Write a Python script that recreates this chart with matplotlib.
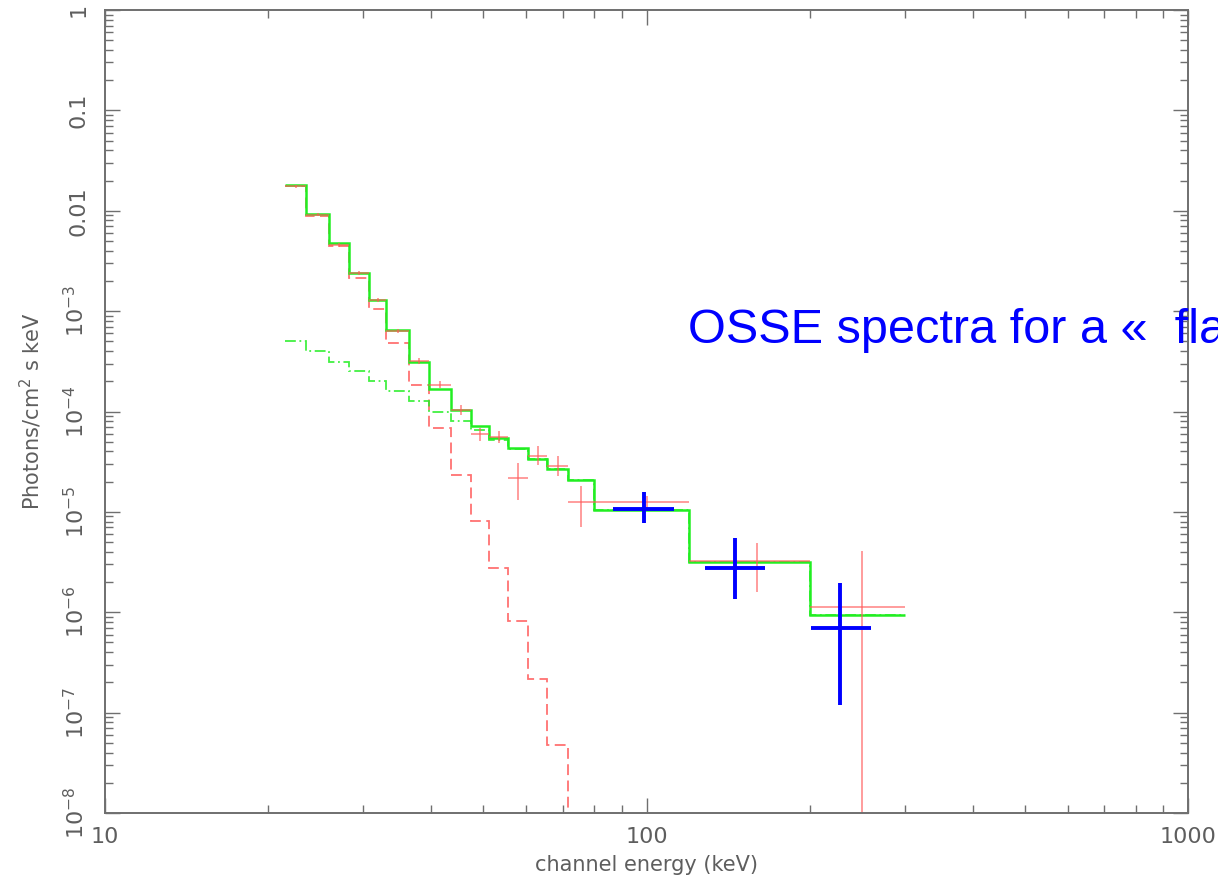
import numpy as np
import matplotlib
matplotlib.use("Agg")
import matplotlib.pyplot as plt
from matplotlib.ticker import FixedLocator, FixedFormatter, LogLocator, NullFormatter

# ---- data ----
# channel bin edges (keV)
edges = [21.5, 23.5, 25.9, 28.25, 30.7, 33.1, 36.4, 39.7, 43.55, 47.4,
         51.2, 55.5, 60.3, 65.6, 71.5, 80.0, 120.0, 200.0, 300.0]

# total model (green solid)
model_total = [0.0179, 0.00919, 0.00472, 0.00241, 0.00129, 6.43e-4, 3.12e-4,
               1.66e-4, 1.03e-4, 7.16e-5, 5.48e-5, 4.29e-5, 3.39e-5, 2.69e-5,
               2.06e-5, 1.04e-5, 3.16e-6, 9.38e-7]

# steep component (red dashed)
model_cut = [0.0175, 0.0088, 0.00444, 0.00215, 0.00106, 4.77e-4, 1.83e-4,
             6.84e-5, 2.33e-5, 8.1e-6, 2.78e-6, 8.17e-7, 2.15e-7, 4.76e-8,
             1e-10, 1e-10, 1e-10, 1e-10]

# power-law component (green dash-dot)
model_pl = [5.03e-4, 4.0e-4, 3.13e-4, 2.51e-4, 2.02e-4, 1.60e-4, 1.27e-4,
            9.96e-5, 8.02e-5, 6.48e-5, 5.2e-5, 4.2e-5, 3.35e-5, 2.68e-5,
            2.06e-5, 1.04e-5, 3.16e-6, 9.3e-7]

# red data points (one per channel)
red_y = [0.0175, 0.0091, 0.0046, 0.0024, 0.00128, 6.3e-4, 3.2e-4, 1.85e-4,
         1.03e-4, 5.91e-5, 5.61e-5, 2.19e-5, 3.6e-5, 2.86e-5, 1.25e-5,
         1.25e-5, 3.21e-6, 1.14e-6]
red_lo = [0.017, 0.0088, 0.0044, 0.0023, 0.00122, 6.0e-4, 3.0e-4, 1.7e-4,
          9.3e-5, 5.1e-5, 4.9e-5, 1.31e-5, 2.9e-5, 2.3e-5, 7.0e-6,
          1.08e-5, 1.6e-6, 1e-10]
red_hi = [0.018, 0.0094, 0.0048, 0.0025, 0.00134, 6.6e-4, 3.4e-4, 2.0e-4,
          1.15e-4, 6.8e-5, 6.4e-5, 3.09e-5, 4.5e-5, 3.6e-5, 1.81e-5,
          1.44e-5, 4.9e-6, 4.07e-6]

# blue points
blue_x = [99.0, 145.4, 227.7]
blue_xlo = [86.9, 128.0, 201.0]
blue_xhi = [112.5, 165.7, 260.2]
blue_y = [1.08e-5, 2.76e-6, 6.91e-7]
blue_ylo = [7.8e-6, 1.35e-6, 1.19e-7]
blue_yhi = [1.56e-5, 5.45e-6, 1.94e-6]

yticks = [1e-8, 1e-7, 1e-6, 1e-5, 1e-4, 1e-3, 0.01, 0.1, 1]
ylabels = [r"$10^{-8}$", r"$10^{-7}$", r"$10^{-6}$", r"$10^{-5}$", r"$10^{-4}$",
           r"$10^{-3}$", "0.01", "0.1", "1"]
xticks = [10, 100, 1000]
xlabels = ["10", "100", "1000"]

GREY = "#6f6f6f"
TXT = "#5e5e5e"
RED = "#ff5a5a"
GREEN = "#22ee22"

fig = plt.figure(figsize=(12.18, 8.83), dpi=100)
ax = fig.add_axes([105 / 1218, 1 - 813 / 883, (1188 - 105) / 1218, (813 - 10) / 883])

e = np.array(edges)
ax.stairs(model_cut, e, baseline=None, color=RED, lw=1.3, ls=(0, (6, 3)), alpha=0.85)
ax.stairs(model_pl, e, baseline=None, color=GREEN, lw=1.3, ls=(0, (6, 2, 1, 2)), alpha=0.85)
ax.stairs(model_total, e, baseline=None, color=GREEN, lw=1.8)

# red data: x error spans the channel, centre at linear midpoint
rx = (e[:-1] + e[1:]) / 2
ry = np.array(red_y)
ax.errorbar(rx, ry, xerr=[rx - e[:-1], e[1:] - rx],
            yerr=[ry - np.array(red_lo), np.array(red_hi) - ry],
            fmt="none", ecolor=RED, elinewidth=1.2, alpha=0.7, capsize=0)

bx = np.array(blue_x)
by = np.array(blue_y)
ax.errorbar(bx, by, xerr=[bx - np.array(blue_xlo), np.array(blue_xhi) - bx],
            yerr=[by - np.array(blue_ylo), np.array(blue_yhi) - by],
            fmt="none", ecolor="#0000ff", elinewidth=2.8, capsize=0)

ax.set_xscale("log")
ax.set_yscale("log")
ax.set_xlim(10, 1000)
ax.set_ylim(1e-8, 1)

ax.yaxis.set_major_locator(FixedLocator(yticks))
ax.yaxis.set_major_formatter(FixedFormatter(ylabels))
ax.xaxis.set_major_locator(FixedLocator(xticks))
ax.xaxis.set_major_formatter(FixedFormatter(xlabels))
ax.xaxis.set_minor_locator(LogLocator(base=10, subs=np.arange(2, 10)))
ax.yaxis.set_minor_locator(LogLocator(base=10, subs=np.arange(2, 10)))
ax.xaxis.set_minor_formatter(NullFormatter())
ax.yaxis.set_minor_formatter(NullFormatter())

ax.tick_params(which="both", direction="in", top=True, right=True, color=GREY,
               labelcolor=TXT, width=1.0)
ax.tick_params(which="major", length=11, labelsize=16)
ax.tick_params(which="minor", length=6)
ax.tick_params(axis="x", which="major", pad=10)
ax.tick_params(axis="y", which="major", pad=12)
for lab in ax.get_yticklabels():
    lab.set_rotation(90)
    lab.set_va("center")
for sp in ax.spines.values():
    sp.set_color(GREY)
    sp.set_linewidth(1.4)

ax.set_xlabel("channel energy (keV)", fontsize=15, color=TXT, labelpad=6)
ax.set_ylabel(r"Photons/cm$^2$ s keV", fontsize=15, color=TXT, labelpad=14)

fig.text(688 / 1218, 1 - 343 / 883, "OSSE spectra for a \u00ab\u00a0 fla",
         color="#0000ff", fontsize=35, family=["Liberation Sans", "DejaVu Sans"],
         va="baseline", ha="left")

fig.savefig("out.png", dpi=100)
